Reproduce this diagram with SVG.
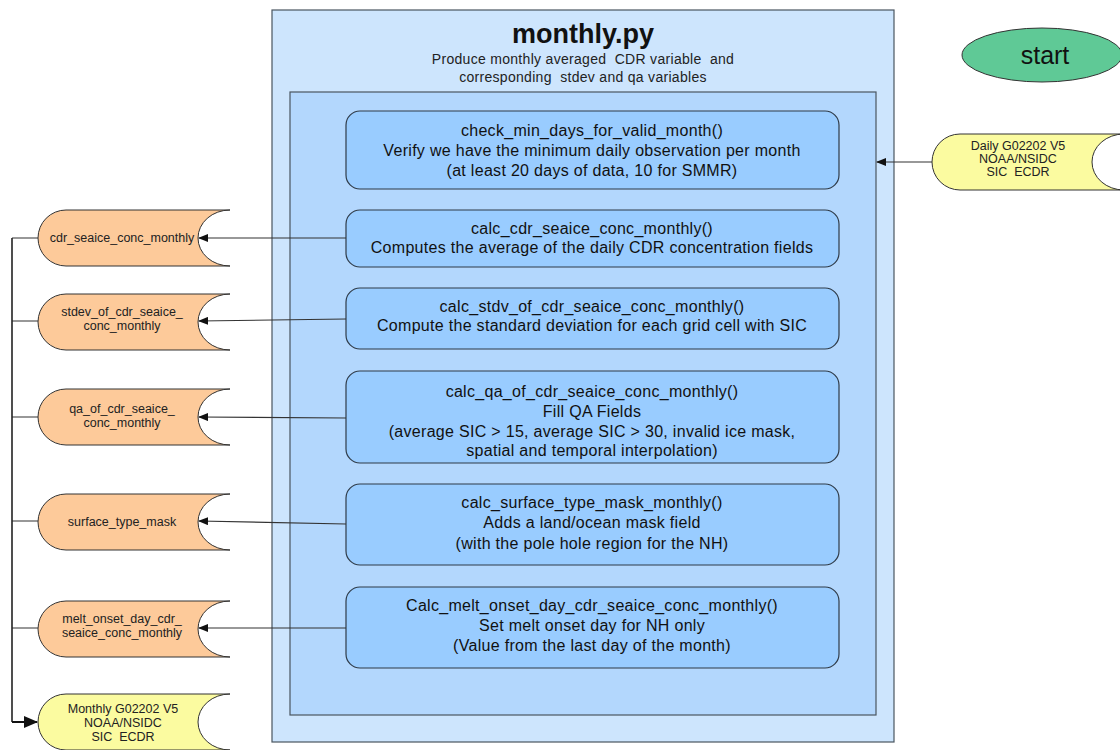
<svg xmlns="http://www.w3.org/2000/svg" width="1120" height="750" viewBox="0 0 1120 750">
<defs>
<style>
.proc{fill:#99ccff;stroke:#2f3b48;stroke-width:1.2}
.ptxt{font-family:"Liberation Sans",Arial,sans-serif;font-size:16px;letter-spacing:0.3px;fill:#111;text-anchor:middle}
.dtxt{font-family:"Liberation Sans",Arial,sans-serif;font-size:12.5px;fill:#222;text-anchor:middle;white-space:pre}
.out{fill:#fdca9a;stroke:#333;stroke-width:1}
.ext{fill:#fbfba0;stroke:#333;stroke-width:1}
.conn{fill:none;stroke:#333;stroke-width:1.1}
.sub{font-family:"Liberation Sans",Arial,sans-serif;font-size:14px;letter-spacing:0.3px;fill:#222;text-anchor:middle;white-space:pre}
</style>
<path id="store" d="M28,0 H192 A32,28 0 0 0 192,56 H28 A28,28 0 0 1 28,0 Z"/>
<marker id="arr" markerWidth="10" markerHeight="8" refX="9" refY="4" orient="auto" markerUnits="userSpaceOnUse">
<path d="M0,0 L10,4 L0,8 Z" fill="#111"/>
</marker>
<marker id="arrB" markerWidth="14" markerHeight="12" refX="13" refY="6" orient="auto" markerUnits="userSpaceOnUse">
<path d="M0,0 L14,6 L0,12 Z" fill="#111"/>
</marker>
</defs>
<rect width="1120" height="750" fill="#fff"/>
<g id="monthly-py">
<rect x="272" y="10" width="622" height="732" fill="#cde5fd" stroke="#4a5560" stroke-width="1.2"/>
<text x="583" y="43" font-family="Liberation Sans,Arial,sans-serif" font-size="27" font-weight="bold" text-anchor="middle" fill="#111">monthly.py</text>
<text class="sub" x="583" y="64">Produce monthly averaged  CDR variable  and</text>
<text class="sub" x="583" y="82">corresponding  stdev and qa variables</text>
<rect x="290" y="92" width="586" height="623" fill="#b3d7fd" stroke="#4a5560" stroke-width="1.2"/>
</g>
<g id="check-min-days">
<rect class="proc" x="346" y="111" width="493" height="78" rx="14"/>
<text class="ptxt" x="592" y="136">check_min_days_for_valid_month()</text>
<text class="ptxt" x="592" y="156">Verify we have the minimum daily observation per month</text>
<text class="ptxt" x="592" y="176">(at least 20 days of data, 10 for SMMR)</text>
</g>
<g id="calc-cdr">
<rect class="proc" x="346" y="210" width="493" height="57" rx="14"/>
<text class="ptxt" x="592" y="234">calc_cdr_seaice_conc_monthly()</text>
<text class="ptxt" x="592" y="253">Computes the average of the daily CDR concentration fields</text>
</g>
<g id="calc-stdv">
<rect class="proc" x="346" y="288" width="493" height="61" rx="14"/>
<text class="ptxt" x="592" y="312">calc_stdv_of_cdr_seaice_conc_monthly()</text>
<text class="ptxt" x="592" y="331">Compute the standard deviation for each grid cell with SIC</text>
</g>
<g id="calc-qa">
<rect class="proc" x="346" y="371" width="493" height="92" rx="14"/>
<text class="ptxt" x="592" y="397">calc_qa_of_cdr_seaice_conc_monthly()</text>
<text class="ptxt" x="592" y="417">Fill QA Fields</text>
<text class="ptxt" x="592" y="437">(average SIC &gt; 15, average SIC &gt; 30, invalid ice mask,</text>
<text class="ptxt" x="592" y="456">spatial and temporal interpolation)</text>
</g>
<g id="calc-surface">
<rect class="proc" x="346" y="484" width="493" height="81" rx="14"/>
<text class="ptxt" x="592" y="508">calc_surface_type_mask_monthly()</text>
<text class="ptxt" x="592" y="528">Adds a land/ocean mask field</text>
<text class="ptxt" x="592" y="549">(with the pole hole region for the NH)</text>
</g>
<g id="calc-melt">
<rect class="proc" x="346" y="587" width="493" height="81" rx="14"/>
<text class="ptxt" x="592" y="611">Calc_melt_onset_day_cdr_seaice_conc_monthly()</text>
<text class="ptxt" x="592" y="631">Set melt onset day for NH only</text>
<text class="ptxt" x="592" y="651">(Value from the last day of the month)</text>
</g>
<g id="start">
<ellipse cx="1042" cy="55" rx="80" ry="27" fill="#5fc996" stroke="#333" stroke-width="1"/>
<text x="1045" y="64" font-family="Liberation Sans,Arial,sans-serif" font-size="25" text-anchor="middle" fill="#111">start</text>
</g>
<g id="daily-input">
<use href="#store" class="ext" transform="translate(932,134)"/>
<text class="dtxt" x="1018" y="150">Daily G02202 V5</text>
<text class="dtxt" x="1018" y="163">NOAA/NSIDC</text>
<text class="dtxt" x="1018" y="176">SIC  ECDR</text>
</g>
<g id="out-cdr">
<use href="#store" class="out" transform="translate(38,210)"/>
<text class="dtxt" x="122" y="242">cdr_seaice_conc_monthly</text>
</g>
<g id="out-stdev">
<use href="#store" class="out" transform="translate(38,294)"/>
<text class="dtxt" x="122" y="316">stdev_of_cdr_seaice_</text>
<text class="dtxt" x="122" y="330">conc_monthly</text>
</g>
<g id="out-qa">
<use href="#store" class="out" transform="translate(38,389)"/>
<text class="dtxt" x="122" y="413">qa_of_cdr_seaice_</text>
<text class="dtxt" x="122" y="427">conc_monthly</text>
</g>
<g id="out-surface">
<use href="#store" class="out" transform="translate(38,494)"/>
<text class="dtxt" x="122" y="526">surface_type_mask</text>
</g>
<g id="out-melt">
<use href="#store" class="out" transform="translate(38,601)"/>
<text class="dtxt" x="122" y="623">melt_onset_day_cdr_</text>
<text class="dtxt" x="122" y="637">seaice_conc_monthly</text>
</g>
<g id="monthly-output">
<use href="#store" class="ext" transform="translate(38,694)"/>
<text class="dtxt" x="123" y="713">Monthly G02202 V5</text>
<text class="dtxt" x="123" y="727">NOAA/NSIDC</text>
<text class="dtxt" x="123" y="741">SIC  ECDR</text>
</g>
<g id="connectors">
<line class="conn" x1="932" y1="162" x2="877" y2="162" marker-end="url(#arr)"/>
<line class="conn" x1="346" y1="238" x2="199" y2="238" marker-end="url(#arr)"/>
<line class="conn" x1="346" y1="319" x2="199" y2="321" marker-end="url(#arr)"/>
<line class="conn" x1="346" y1="418" x2="199" y2="417" marker-end="url(#arr)"/>
<line class="conn" x1="346" y1="524" x2="199" y2="521" marker-end="url(#arr)"/>
<line class="conn" x1="346" y1="628" x2="199" y2="628" marker-end="url(#arr)"/>
<path class="conn" d="M38,238 H12 M38,321 H12 M38,417 H12 M38,521 H12 M38,628 H12"/>
<path fill="none" stroke="#222" stroke-width="1.6" d="M12,238 V722"/>
<path fill="none" stroke="#111" stroke-width="2" d="M12,722 H37" marker-end="url(#arrB)"/>
</g>
</svg>
